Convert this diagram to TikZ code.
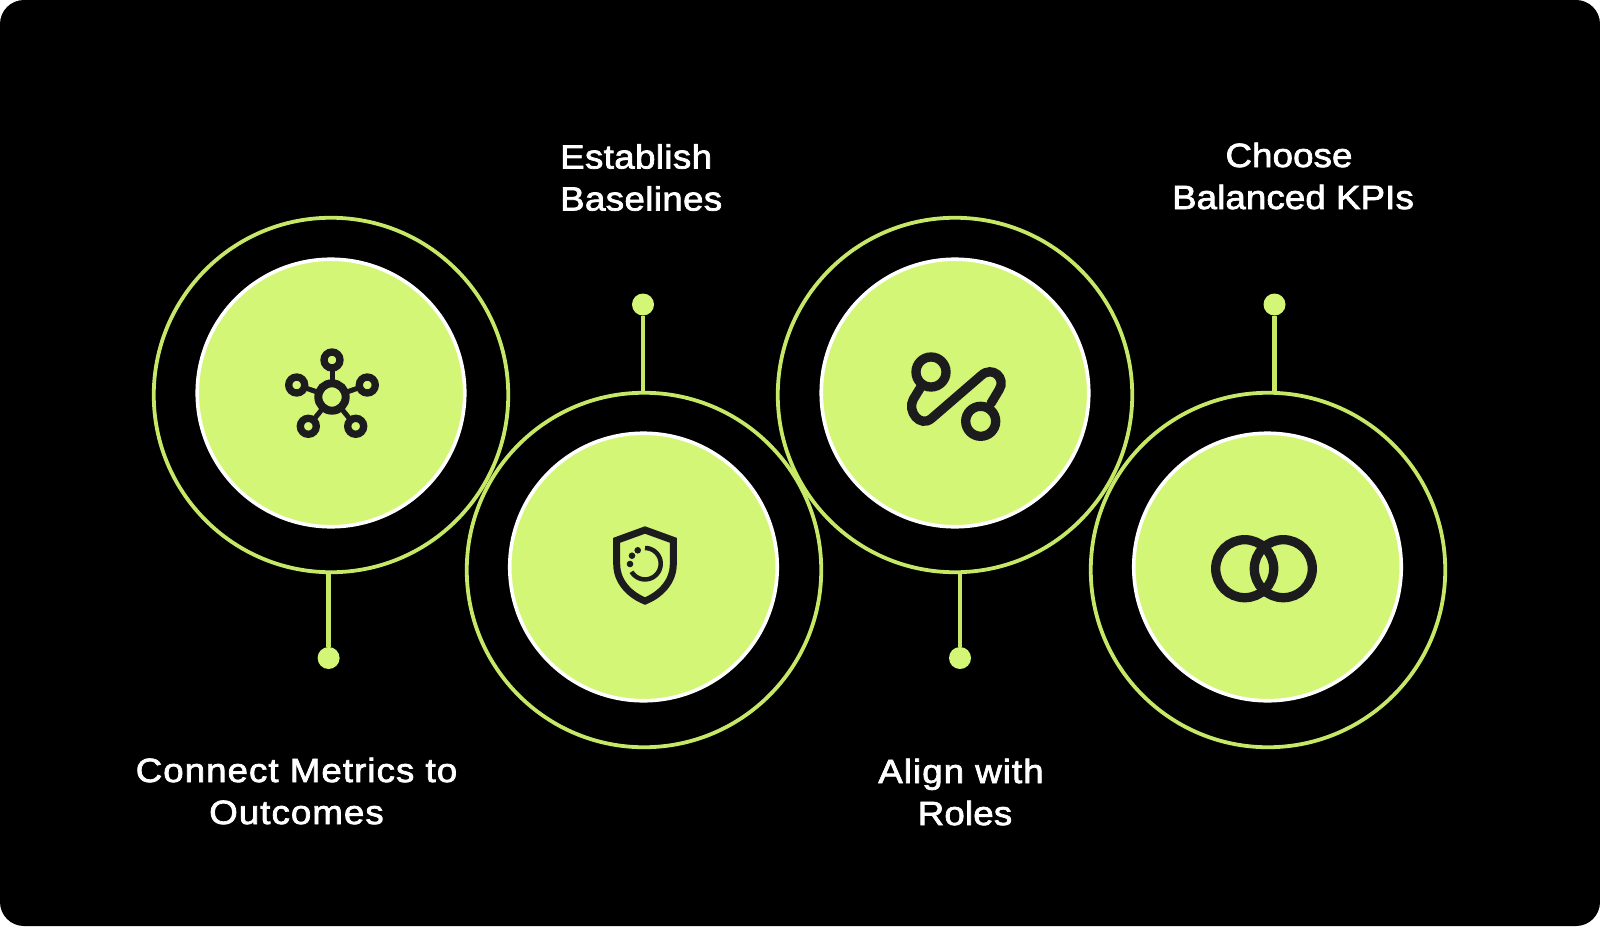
\documentclass[tikz,border=0pt]{standalone}
\usepackage{fontspec}
\setmainfont{Liberation Sans}
\newfontfamily\labelfont[FakeBold=2.2,FakeStretch=1.09,LetterSpace=1.2]{Liberation Sans}
\definecolor{lime}{HTML}{D4F677}
\definecolor{ringlime}{HTML}{C6E866}
\definecolor{ink}{HTML}{1C1C1E}
\tikzset{
  ringbase/.style={circle,fill=black,minimum size=357pt,inner sep=0pt,outer sep=0pt},
  ringline/.style={circle,draw=ringlime,line width=3.8pt,minimum size=354.5pt,inner sep=0pt,outer sep=0pt},
  disc/.style={circle,fill=lime,draw=white,line width=3.6pt,minimum size=267.5pt,inner sep=0pt},
  stemdot/.style={circle,fill=lime,minimum size=22pt,inner sep=0pt,outer sep=0pt},
  stem/.style={draw=ringlime,line width=4.8pt},
  caption/.style={text=white,align=center,font=\labelfont\fontsize{33.6}{42}\selectfont,inner sep=0pt},
  ic/.style={draw=ink,line join=miter},
  icring/.style={circle,draw=ink,inner sep=0pt,outer sep=0pt},
  icdot/.style={circle,fill=ink,inner sep=0pt,minimum size=6.6pt}
}
\begin{document}
\begin{tikzpicture}[x=1pt,y=-1pt]
\useasboundingbox (0,0) rectangle (1600,926);
\fill[white] (0,0) rectangle (1600,926);
\fill[black,rounded corners=24pt] (0,0) rectangle (1600,926);
% black bases
\node[ringbase] (b1) at (331,395) {};
\node[ringbase] (b2) at (644,570) {};
\node[ringbase] (b3) at (955,395) {};
\node[ringbase] (b4) at (1268,570) {};
% stems and dots
\node[stemdot] (d1) at (328.6,658) {};
\node[stemdot] (d2) at (643,304.5) {};
\node[stemdot] (d3) at (960,658) {};
\node[stemdot] (d4) at (1274.5,304.5) {};
\coordinate (e1) at (328.6,572);
\coordinate (e2) at (643,392);
\coordinate (e3) at (960,572);
\coordinate (e4) at (1274.5,392);
\draw[stem] (d1) -- (e1);
\draw[stem] (d2) -- (e2);
\draw[stem] (d3) -- (e3);
\draw[stem] (d4) -- (e4);
% rings
\node[ringline] (r1) at (331,395) {};
\node[ringline] (r2) at (644,570) {};
\node[ringline] (r3) at (955,395) {};
\node[ringline] (r4) at (1268,570) {};
% discs
\node[disc] (c1) at (331,393) {};
\node[disc] (c2) at (643.5,567) {};
\node[disc] (c3) at (955,393) {};
\node[disc] (c4) at (1267.5,567) {};
% icon 1
\foreach \n/\x/\y in {a/332/360,b/296.7/385,c/367.3/385,d/308.3/426.3,e/355.7/426.3}{
  \draw[ink,line width=5pt] (332,397) -- (\x,\y);
  \node[icring,line width=7.3pt,minimum size=16pt,fill=lime] (s\n) at (\x,\y) {};
}
\node[icring,line width=8pt,minimum size=27.4pt,fill=lime] (hub) at (332,397) {};
% icon 2
\draw[ic,line width=7pt] (645,530) -- (673.3,540.3) -- (673.3,564) .. controls (673.3,582) and (660,595) .. (645,601) .. controls (630,595) and (616.7,582) .. (616.7,564) -- (616.7,540.3) -- cycle;
\draw[ink,line width=4.5pt] plot[domain=-90:149,samples=50] ({645+15.7*cos(\x)},{563.7+15.7*sin(\x)});
\node[icdot] (k1) at (637.7,550.3) {};
\node[icdot] (k2) at (632,555.7) {};
\node[icdot] (k3) at (630,564) {};
% icon 3
\draw[ink,line width=9.3pt,line cap=round]
  (921,386.7) -- (913.3,399.3) .. controls (906.7,411) and (920,428.3) .. (931.7,418.3)
  -- (981,375.7) .. controls (992.3,365) and (1006.7,378.3) .. (999,390) -- (991,403.3);
\node[icring,line width=9.3pt,minimum size=30pt,fill=lime] (p1) at (931,372) {};
\node[icring,line width=9.3pt,minimum size=30pt,fill=lime] (p2) at (980.7,421.3) {};
% icon 4
\node[icring,line width=9.3pt,minimum size=58pt] (o1) at (1244.7,568.7) {};
\node[icring,line width=9.3pt,minimum size=58pt] (o2) at (1283.3,568.7) {};
% labels
\node[caption] (t1) at (296.5,791) {\addfontfeature{LetterSpace=3.2}Connect Metrics to\\\addfontfeature{LetterSpace=3.2}Outcomes};
\node[caption,align=left,anchor=west] (t2) at (560,177.5) {Establish\\Baselines};
\node[caption] (t3) at (965,792) {\addfontfeature{LetterSpace=3.2}Align with\kern8pt\\\addfontfeature{LetterSpace=0.6}Roles};
\node[caption] (t4) at (1293,176) {\addfontfeature{LetterSpace=0.4}Choose\kern8pt\\\addfontfeature{LetterSpace=0.4}Balanced KPIs};
\end{tikzpicture}
\end{document}
